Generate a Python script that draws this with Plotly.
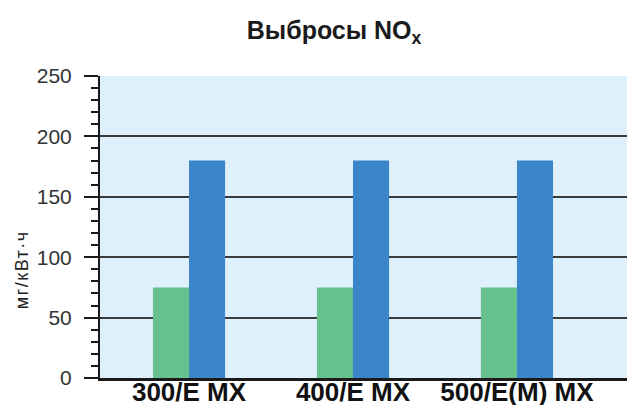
import plotly.graph_objects as go

categories = ["300/E MX", "400/E MX", "500/E(M) MX"]
series_green = [75, 75, 75]
series_blue = [180, 180, 180]
y_ticks = [0, 50, 100, 150, 200, 250]
y_label = "мг/кВт·ч"

fig = go.Figure()
fig.add_trace(go.Bar(x=categories, y=series_green, marker=dict(color="#66c18f", line=dict(width=0)), showlegend=False))
fig.add_trace(go.Bar(x=categories, y=series_blue, marker=dict(color="#3b86c8", line=dict(width=0)), showlegend=False))

# page body has an 8px margin, so the figure is sized to fill the remaining window
fig.update_layout(
    width=627, height=397,
    margin=dict(l=92, r=0, t=68, b=27, autoexpand=False),
    paper_bgcolor="white",
    plot_bgcolor="#ddf0fc",
    barmode="group",
    bargap=0.56,
    bargroupgap=0,
    font=dict(family="Liberation Sans, Arial, sans-serif", color="#222"),
    title=dict(text="<b>Выбросы NO<sub>x</sub></b>", x=0.52, xanchor="center", y=0.945, yanchor="middle",
               font=dict(size=25, color="#1a1a1a"), automargin=False),
    annotations=[dict(
        text='<span style="letter-spacing:1.5px">' + y_label + '</span>',
        xref="paper", yref="paper", x=-0.146, y=0.36, xanchor="center", yanchor="middle",
        textangle=-90, showarrow=False, font=dict(size=18, color="#222"),
    )],
)
fig.update_xaxes(
    type="category", range=[-0.543, 2.72], automargin=False,
    showline=True, linecolor="#1a1a1a", linewidth=3,
    tickfont=dict(size=26, color="#111", family="Liberation Sans, Arial, sans-serif", weight="bold"),
    ticklabelstandoff=-11,
    ticks="", showgrid=False,
)
fig.update_yaxes(
    range=[0, 250], tickvals=y_ticks, ticktext=[str(v) for v in y_ticks], automargin=False,
    showline=True, linecolor="#1a1a1a", linewidth=2,
    ticks="outside", ticklen=14, tickwidth=2, tickcolor="#1a1a1a",
    minor=dict(dtick=10, ticks="outside", ticklen=7, tickwidth=2, tickcolor="#1a1a1a", showgrid=False),
    showgrid=True, gridcolor="#3a3a3a", gridwidth=2,
    tickfont=dict(size=21, color="#333"),
    ticklabelstandoff=8,
    zeroline=False,
)

fig.write_html("out.html")
